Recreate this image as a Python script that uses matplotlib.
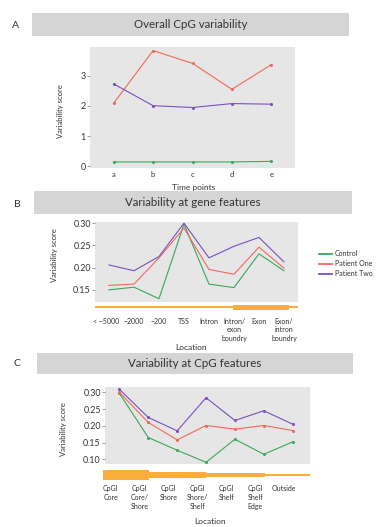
import matplotlib
matplotlib.use('Agg')
import matplotlib.pyplot as plt
from matplotlib.patches import Rectangle

plt.rcParams['font.family'] = ['Lato', 'DejaVu Sans']
plt.rcParams['axes.unicode_minus'] = True

W, H = 379, 527

# ---- data ----
series_names = ['Control', 'Patient One', 'Patient Two']
colors = ['#3aa85e', '#f2685a', '#7b50bf']

time_points = ['a', 'b', 'c', 'd', 'e']
overall_control = [0.15, 0.15, 0.15, 0.15, 0.17]
overall_p1 = [2.09, 3.83, 3.41, 2.55, 3.37]
overall_p2 = [2.73, 2.01, 1.95, 2.08, 2.06]

gene_features = ['< \u22125000', '\u22122000', '\u2212200', 'TSS', 'Intron',
                 'Intron/\nexon\nboundry', 'Exon', 'Exon/\nintron\nboundry']
gene_control = [0.150, 0.156, 0.130, 0.298, 0.163, 0.155, 0.231, 0.193]
gene_p1 = [0.160, 0.163, 0.222, 0.289, 0.196, 0.185, 0.246, 0.199]
gene_p2 = [0.206, 0.193, 0.225, 0.300, 0.222, 0.248, 0.268, 0.213]

cpg_features = ['CpGI\nCore', 'CpGI\nCore/\nShore', 'CpGI\nShore', 'CpGI\nShore/\nShelf',
                'CpGI\nShelf', 'CpGI\nShelf\nEdge', 'Outside']
cpg_control = [0.297, 0.165, 0.127, 0.091, 0.160, 0.115, 0.152]
cpg_p1 = [0.300, 0.210, 0.158, 0.201, 0.190, 0.201, 0.186]
cpg_p2 = [0.309, 0.225, 0.185, 0.284, 0.216, 0.245, 0.205]

ORANGE = '#fbad3c'
BAR_GREY = '#d5d5d5'
AX_GREY = '#e6e6e6'
TXT = '#333333'


def px_rect(x0, y0, x1, y1):
    return [x0 / W, 1 - y1 / H, (x1 - x0) / W, (y1 - y0) / H]


def title_bar(fig, x0, y0, x1, y1, text, letter, lx, ly):
    fig.patches.append(Rectangle((x0 / W, 1 - y1 / H), (x1 - x0) / W, (y1 - y0) / H,
                                 transform=fig.transFigure, facecolor=BAR_GREY,
                                 edgecolor='none', zorder=0))
    fig.text((x0 + x1) / 2 / W, 1 - (y0 + y1) / 2 / H, text, ha='center', va='center',
             fontsize=8.3, color=TXT)
    fig.text(lx / W, 1 - ly / H, letter, ha='center', va='center', fontsize=7.5, color=TXT)


def style_axes(ax):
    ax.set_facecolor(AX_GREY)
    for s in ax.spines.values():
        s.set_visible(False)
    ax.tick_params(axis='y', length=2, width=0.5, color='#777777', labelsize=6.4,
                   labelcolor=TXT, pad=1)
    ax.tick_params(axis='x', length=0, labelsize=5, labelcolor=TXT)


fig = plt.figure(figsize=(W / 100, H / 100), dpi=100)

# ---- A ----
title_bar(fig, 32, 13, 349, 36, 'Overall CpG variability', 'A', 15, 25)
axA = fig.add_axes(px_rect(90, 47, 295, 168))
style_axes(axA)
xa = range(len(time_points))
for vals, c in zip([overall_control, overall_p1, overall_p2], colors):
    axA.plot(xa, vals, color=c, lw=0.8, marker='o', ms=1.2)
axA.set_xlim(-0.6, 4.6)
axA.set_ylim(-0.05, 3.95)
axA.set_yticks([0, 1, 2, 3])
axA.set_xticks(list(xa))
axA.set_xticklabels(time_points)
axA.tick_params(axis='x', pad=2, labelsize=5.5)
axA.set_ylabel('Variability score', fontsize=5.5, color=TXT)
axA.set_xlabel('Time points', fontsize=6, color=TXT)
axA.yaxis.set_label_coords(-0.127, 0.47)
axA.xaxis.set_label_coords(0.504, -0.13)

# ---- B ----
title_bar(fig, 34, 191, 352, 214, 'Variability at gene features', 'B', 17, 205)
axB = fig.add_axes(px_rect(95, 222.3, 297.7, 302.3))
style_axes(axB)
xb = range(len(gene_features))
lines = []
for vals, c, n in zip([gene_control, gene_p1, gene_p2], colors, series_names):
    ln, = axB.plot(xb, vals, color=c, lw=0.8, label=n)
    lines.append(ln)
axB.set_xlim(-0.56, 7.55)
axB.set_ylim(0.122, 0.302)
axB.set_yticks([0.15, 0.20, 0.25, 0.30])
axB.set_yticklabels(['0.15', '0.20', '0.25', '0.30'])
axB.set_xticks([i - 0.12 if i == 0 else i for i in xb])
axB.set_xticklabels(gene_features, va='top', linespacing=1.3)
axB.tick_params(axis='x', pad=11)
axB.set_ylabel('Variability score', fontsize=5.5, color=TXT)
axB.set_xlabel('Location', fontsize=6, color=TXT)
axB.yaxis.set_label_coords(-0.183, 0.59)
axB.xaxis.set_label_coords(0.474, -0.52)
# gene structure bar
tB = axB.get_xaxis_transform()
hB = 80.0
axB.add_patch(Rectangle((-0.56, (302.3 - 308.3) / hB), 7.55 + 0.56, 2.0 / hB,
                        transform=tB, facecolor=ORANGE, edgecolor='none', clip_on=False,
                        zorder=5))
axB.add_patch(Rectangle((4.95, (302.3 - 310.3) / hB), 7.2 - 4.95, 5.0 / hB,
                        transform=tB, facecolor=ORANGE, edgecolor='none', clip_on=False,
                        zorder=5))

leg = fig.legend(handles=lines, labels=series_names, loc='upper left',
                 bbox_to_anchor=(319 / W, 1 - 250 / H), frameon=False, fontsize=5,
                 handlelength=1.8, labelspacing=0.45, handletextpad=0.5, labelcolor=TXT,
                 borderpad=0, borderaxespad=0)
for ln in leg.get_lines():
    ln.set_linewidth(1.3)

# ---- C ----
title_bar(fig, 36.7, 352.7, 353, 374.3, 'Variability at CpG features', 'C', 17, 363)
axC = fig.add_axes(px_rect(105, 386.7, 310, 464.3))
style_axes(axC)
xc = range(len(cpg_features))
for vals, c in zip([cpg_control, cpg_p1, cpg_p2], colors):
    axC.plot(xc, vals, color=c, lw=0.8, marker='o', ms=1.2)
axC.set_xlim(-0.5, 6.6)
axC.set_ylim(0.085, 0.317)
axC.set_yticks([0.10, 0.15, 0.20, 0.25, 0.30])
axC.set_yticklabels(['0.10', '0.15', '0.20', '0.25', '0.30'])
axC.set_xticks([i - 0.3 for i in xc])
axC.set_xticklabels(cpg_features, va='top', linespacing=1.3)
axC.tick_params(axis='x', pad=15)
axC.set_ylabel('Variability score', fontsize=5.5, color=TXT)
axC.set_xlabel('Location', fontsize=6, color=TXT)
axC.yaxis.set_label_coords(-0.187, 0.455)
axC.xaxis.set_label_coords(0.512, -0.69)
# CpG island density bar, tapering
tC = axC.get_xaxis_transform()
hC = 77.6
yc = 475.0
for x0, x1, th in [(-0.56, 1.04, 10.0), (1.04, 3.0, 6.6), (3.0, 5.04, 4.0), (5.04, 6.6, 2.0)]:
    axC.add_patch(Rectangle((x0, (464.3 - yc - th / 2) / hC), x1 - x0, th / hC,
                            transform=tC, facecolor=ORANGE, edgecolor='none', clip_on=False))

fig.savefig('out.png', dpi=100)
